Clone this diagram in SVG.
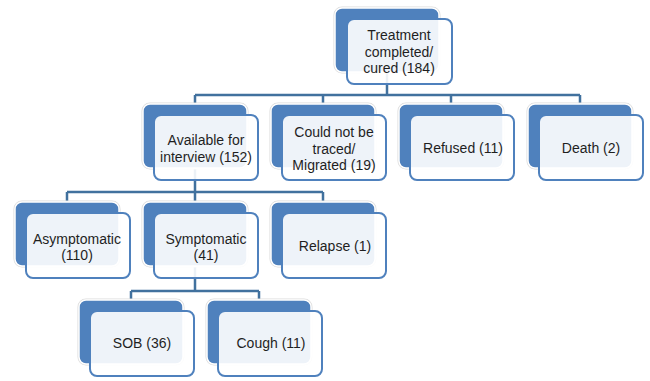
<svg xmlns="http://www.w3.org/2000/svg" width="650" height="381" viewBox="0 0 650 381">
<style>
.bg{fill:#ffffff}
.halo{fill:none;stroke:#dcdcdc;stroke-width:3}
.back{fill:#4F81BD;stroke:#ffffff;stroke-width:1.5}
.front{fill:#ffffff;fill-opacity:0.9;stroke:#4F81BD;stroke-width:2}
.conn{fill:none;stroke:#41719E;stroke-width:2.5}
text{font-family:"Liberation Sans",Arial,sans-serif;font-size:14px;fill:#1f1f1f;text-anchor:middle}
</style>
<rect class="bg" x="0" y="0" width="650" height="381"/>
<g id="connectors">
<path class="conn" d="M387 72V95M195 95H580M195 95V104M323 95V104M451 95V104M580 95V104"/>
<path class="conn" d="M195 168V192M67 192H323M67 192V202M195 192V202M323 192V202"/>
<path class="conn" d="M195 266V291M131 291H259M131 291V300M259 291V300"/>
</g>
<g id="n-root">
<rect class="halo" x="335" y="8" width="104" height="64" rx="7"/>
<rect class="back" x="335" y="8" width="104" height="64" rx="7"/>
<rect class="front" x="347" y="19" width="105" height="65" rx="7"/>
<text x="399" y="40">Treatment</text>
<text x="399" y="57">completed/</text>
<text x="399" y="73">cured (184)</text>
</g>
<g id="n-available">
<rect class="halo" x="143" y="104" width="104" height="64" rx="7"/>
<rect class="back" x="143" y="104" width="104" height="64" rx="7"/>
<rect class="front" x="154" y="115" width="104" height="65" rx="7"/>
<text x="206" y="145">Available for</text>
<text x="206" y="162">interview (152)</text>
</g>
<g id="n-untraced">
<rect class="halo" x="271" y="104" width="104" height="64" rx="7"/>
<rect class="back" x="271" y="104" width="104" height="64" rx="7"/>
<rect class="front" x="282" y="115" width="104" height="65" rx="7"/>
<text x="334" y="137">Could not be</text>
<text x="334" y="154">traced/</text>
<text x="334" y="170">Migrated (19)</text>
</g>
<g id="n-refused">
<rect class="halo" x="399" y="104" width="104" height="64" rx="7"/>
<rect class="back" x="399" y="104" width="104" height="64" rx="7"/>
<rect class="front" x="410" y="115" width="104" height="65" rx="7"/>
<text x="463" y="153">Refused (11)</text>
</g>
<g id="n-death">
<rect class="halo" x="528" y="104" width="104" height="64" rx="7"/>
<rect class="back" x="528" y="104" width="104" height="64" rx="7"/>
<rect class="front" x="539" y="115" width="104" height="65" rx="7"/>
<text x="591" y="153">Death (2)</text>
</g>
<g id="n-asymptomatic">
<rect class="halo" x="15" y="202" width="104" height="64" rx="7"/>
<rect class="back" x="15" y="202" width="104" height="64" rx="7"/>
<rect class="front" x="26" y="213" width="104" height="65" rx="7"/>
<text x="77" y="244">Asymptomatic</text>
<text x="77" y="260">(110)</text>
</g>
<g id="n-symptomatic">
<rect class="halo" x="143" y="202" width="104" height="64" rx="7"/>
<rect class="back" x="143" y="202" width="104" height="64" rx="7"/>
<rect class="front" x="154" y="213" width="104" height="65" rx="7"/>
<text x="206" y="244">Symptomatic</text>
<text x="206" y="260">(41)</text>
</g>
<g id="n-relapse">
<rect class="halo" x="271" y="202" width="104" height="64" rx="7"/>
<rect class="back" x="271" y="202" width="104" height="64" rx="7"/>
<rect class="front" x="282" y="213" width="104" height="65" rx="7"/>
<text x="335" y="251">Relapse (1)</text>
</g>
<g id="n-sob">
<rect class="halo" x="79" y="300" width="104" height="64" rx="7"/>
<rect class="back" x="79" y="300" width="104" height="64" rx="7"/>
<rect class="front" x="90" y="311" width="104" height="65" rx="7"/>
<text x="142" y="348">SOB (36)</text>
</g>
<g id="n-cough">
<rect class="halo" x="207" y="300" width="104" height="64" rx="7"/>
<rect class="back" x="207" y="300" width="104" height="64" rx="7"/>
<rect class="front" x="218" y="311" width="104" height="65" rx="7"/>
<text x="271" y="348">Cough (11)</text>
</g>
</svg>
